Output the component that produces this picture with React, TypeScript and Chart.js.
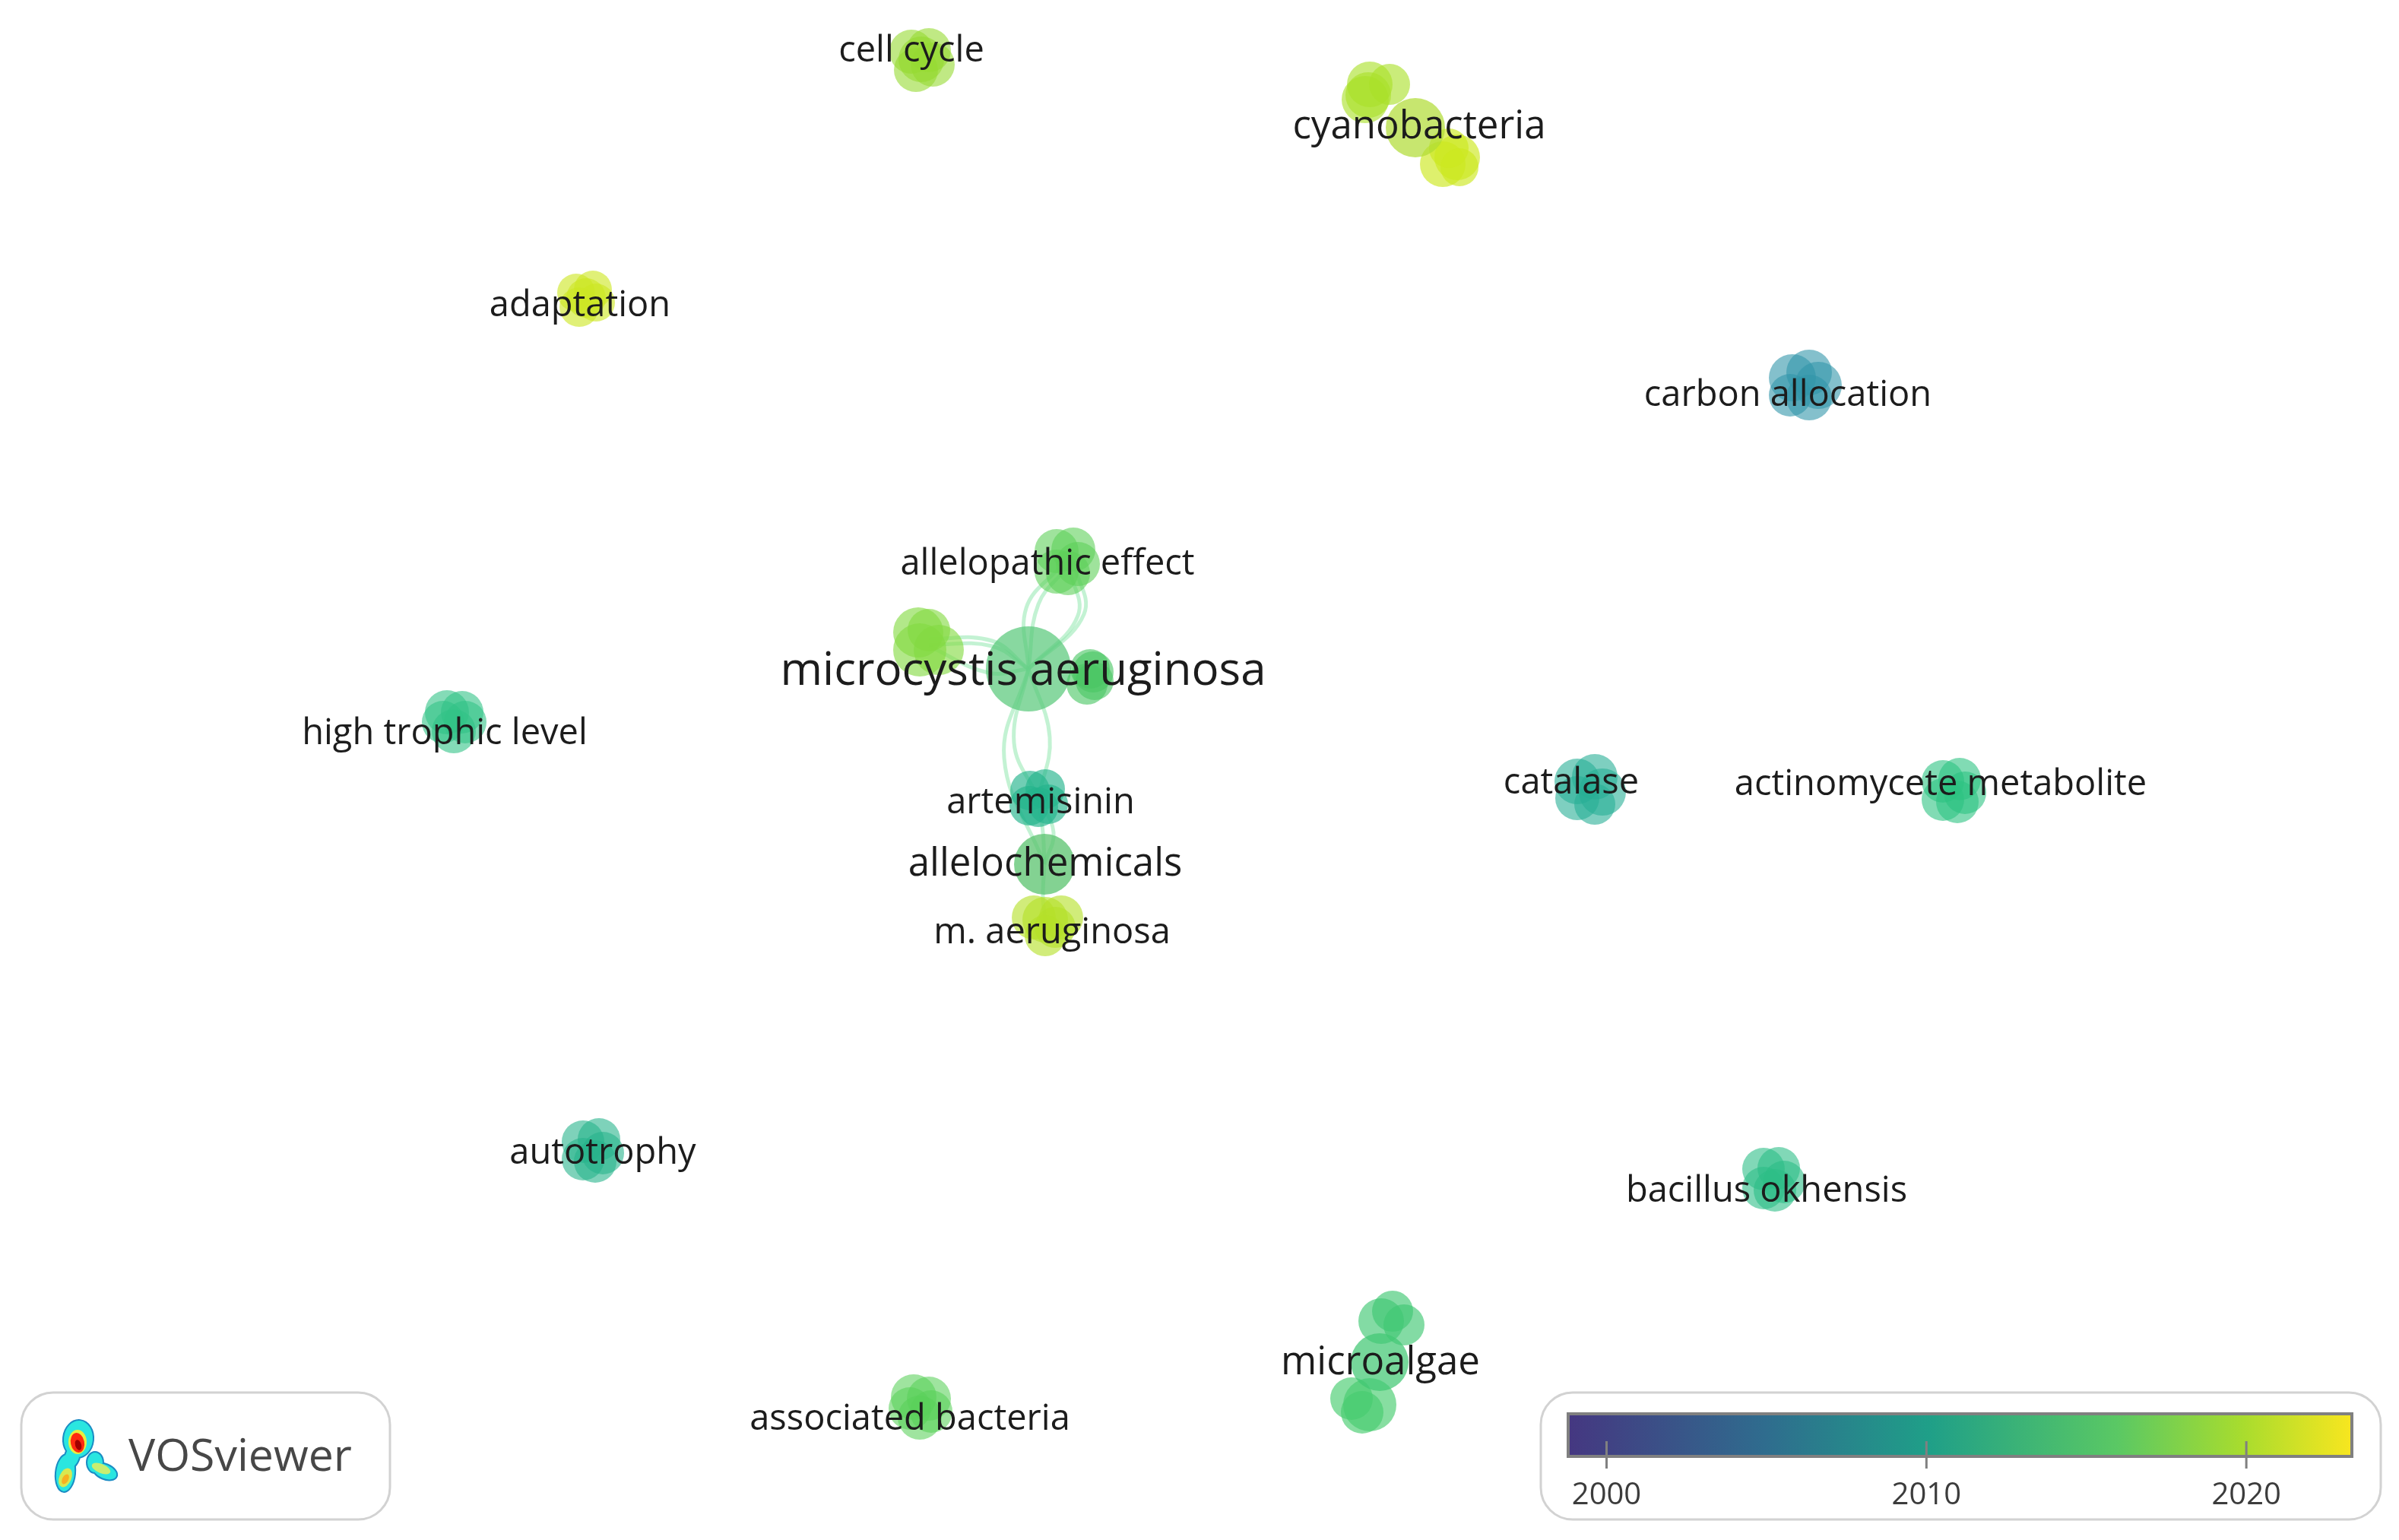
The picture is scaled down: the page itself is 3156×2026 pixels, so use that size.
import React, { useEffect, useRef } from 'react';
import { Chart, registerables } from 'chart.js';

Chart.register(...registerables);

type Node = [number, number, number];
type Link = [number, number][];

// map positions and weights of the items
const cellCycle: Node[] = [[1199, 68, 29], [1222, 66, 29], [1227, 85, 29], [1205, 92, 29], [1212, 78, 30]];
const cyanoTop: Node[] = [[1796, 131, 31], [1802, 111, 30], [1828, 111, 27], [1800, 125, 30]];
const cyanoMid: Node[] = [[1862, 168, 39]];
const cyanoBottom: Node[] = [[1917, 207, 30], [1898, 216, 30], [1906, 195, 26], [1920, 220, 25]];
const adaptation: Node[] = [[758, 385, 25], [780, 381, 25], [784, 398, 25], [762, 404, 26], [771, 392, 26]];
const carbonAllocation: Node[] = [[2358, 497, 31], [2380, 490, 30], [2392, 507, 31], [2355, 520, 28], [2380, 523, 30]];
const allelopathicEffect: Node[] = [[1390, 725, 29], [1412, 723, 29], [1418, 742, 29], [1390, 752, 29], [1405, 754, 29]];
const leftOfMain: Node[] = [[1208, 832, 33], [1222, 829, 28], [1210, 855, 35], [1235, 855, 33]];
const microcystis: Node[] = [[1353, 880, 56]];
const rightOfMain: Node[] = [[1438, 884, 27], [1430, 900, 27], [1434, 880, 26], [1440, 896, 25]];
const highTrophic: Node[] = [[588, 937, 29], [608, 937, 28], [597, 962, 29], [583, 950, 28], [612, 950, 28]];
const artemisinin: Node[] = [[1355, 1040, 26], [1375, 1038, 26], [1379, 1058, 26], [1354, 1060, 26], [1366, 1062, 26]];
const allelochemicals: Node[] = [[1374, 1137, 40]];
const mAeruginosa: Node[] = [[1360, 1207, 29], [1396, 1207, 29], [1375, 1231, 27], [1388, 1220, 27], [1375, 1210, 30]];
const catalase: Node[] = [[2075, 1028, 30], [2098, 1022, 30], [2108, 1042, 31], [2075, 1050, 29], [2098, 1058, 27]];
const actinomycete: Node[] = [[2556, 1028, 28], [2578, 1025, 28], [2585, 1043, 28], [2556, 1052, 28], [2575, 1055, 28]];
const autotrophy: Node[] = [[767, 1502, 28], [788, 1499, 28], [793, 1517, 28], [767, 1525, 28], [783, 1528, 28]];
const bacillus: Node[] = [[2320, 1538, 28], [2340, 1537, 28], [2347, 1555, 28], [2320, 1563, 28], [2335, 1566, 28]];
const microalgaeTop: Node[] = [[1817, 1738, 30], [1847, 1743, 27], [1832, 1725, 27]];
const microalgaeMid: Node[] = [[1815, 1792, 38]];
const microalgaeBottom: Node[] = [[1778, 1840, 28], [1802, 1848, 35], [1792, 1858, 28]];
const associatedBacteria: Node[] = [[1202, 1838, 30], [1222, 1840, 29], [1210, 1865, 29], [1225, 1857, 28], [1197, 1853, 28]];

const nodeGroups: [Node[], string][] = [
  [cellCycle, 'rgba(150,218,50,0.6)'],
  [cyanoTop, 'rgba(170,225,40,0.62)'],
  [cyanoMid, 'rgba(175,220,50,0.7)'],
  [cyanoBottom, 'rgba(205,232,30,0.65)'],
  [adaptation, 'rgba(205,230,35,0.62)'],
  [carbonAllocation, 'rgba(50,150,170,0.6)'],
  [allelopathicEffect, 'rgba(95,208,90,0.6)'],
  [leftOfMain, 'rgba(130,218,65,0.62)'],
  [rightOfMain, 'rgba(75,198,100,0.62)'],
  [microcystis, 'rgba(85,200,120,0.7)'],
  [highTrophic, 'rgba(50,195,135,0.6)'],
  [artemisinin, 'rgba(35,180,140,0.65)'],
  [allelochemicals, 'rgba(90,195,110,0.75)'],
  [mAeruginosa, 'rgba(180,225,40,0.62)'],
  [catalase, 'rgba(40,175,150,0.6)'],
  [actinomycete, 'rgba(45,195,130,0.6)'],
  [autotrophy, 'rgba(40,180,140,0.6)'],
  [bacillus, 'rgba(45,190,135,0.6)'],
  [microalgaeTop, 'rgba(65,200,115,0.65)'],
  [microalgaeMid, 'rgba(65,200,115,0.72)'],
  [microalgaeBottom, 'rgba(70,205,110,0.65)'],
  [associatedBacteria, 'rgba(90,208,90,0.58)'],
];

const links: Link[] = [
  [[1353, 880], [1350, 800], [1395, 745]],
  [[1353, 880], [1366, 795], [1405, 745]],
  [[1353, 880], [1418, 810], [1405, 745]],
  [[1353, 880], [1426, 808], [1412, 740]],
  [[1353, 880], [1305, 843], [1222, 840]],
  [[1353, 880], [1305, 850], [1222, 848]],
  [[1353, 880], [1300, 885], [1222, 850]],
  [[1353, 880], [1321, 997], [1374, 1137]],
  [[1353, 880], [1334, 977], [1366, 1050]],
  [[1353, 880], [1381, 970], [1366, 1050]],
  [[1366, 1050], [1372, 1095], [1374, 1137]],
  [[1366, 1050], [1386, 1095], [1374, 1137]],
  [[1374, 1137], [1372, 1180], [1375, 1210]],
];

const labelTexts = ['cell cycle', 'cyanobacteria', 'adaptation', 'carbon allocation', 'allelopathic effect', 'microcystis aeruginosa', 'high trophic level', 'artemisinin', 'catalase', 'actinomycete metabolite', 'allelochemicals', 'm. aeruginosa', 'autotrophy', 'bacillus okhensis', 'microalgae', 'associated bacteria'];
const labelX = [1199, 1867, 763, 2352, 1378, 1346, 585, 1369, 2067, 2553, 1375, 1384, 793, 2324, 1816, 1197];
const labelY = [68, 167, 403, 521, 743, 884, 966, 1057, 1031, 1033, 1137, 1228, 1518, 1568, 1793, 1868];
const labelSizes = [47, 51, 47, 47, 47, 60, 47, 47, 47, 47, 51, 47, 47, 47, 51, 47];

const yearTicks = [2000, 2010, 2020];
const yearMin = 1998.8;
const yearMax = 2023.3;

const panel = (ctx: CanvasRenderingContext2D, x: number, y: number, w: number, h: number) => {
  ctx.beginPath();
  ctx.roundRect(x, y, w, h, 42);
  ctx.fillStyle = '#fff';
  ctx.fill();
  ctx.lineWidth = 3;
  ctx.strokeStyle = '#d2d2d2';
  ctx.stroke();
};

// the little VOSviewer density logo
const drawLogo = (ctx: CanvasRenderingContext2D) => {
  const blobs = [[103, 1893, 19, 24, 0.1], [86, 1938, 12, 24, 0.1], [95, 1916, 9, 16, 0.3], [125, 1924, 10, 13, 0], [138, 1936, 16, 9, 0.4]];
  const trace = () => {
    ctx.beginPath();
    blobs.forEach(([x, y, rx, ry, a]) => {
      ctx.moveTo(x + rx * Math.cos(a), y + rx * Math.sin(a));
      ctx.ellipse(x, y, rx, ry, a, 0, Math.PI * 2);
    });
  };
  trace();
  ctx.lineWidth = 4;
  ctx.strokeStyle = '#1a8cc4';
  ctx.stroke();
  ctx.fillStyle = '#2ae6e0';
  trace();
  ctx.fill();
  const spots: [number, number, number, number, number, string][] = [
    [102, 1897, 12, 16, 0, '#e8ee40'],
    [102, 1898, 9, 13, -0.2, '#ff2a10'],
    [103, 1901, 4, 7, -0.3, '#a00000'],
    [86, 1944, 8, 13, 0.4, '#d8e850'],
    [86, 1946, 4, 7, 0.5, '#f8b020'],
    [133, 1932, 13, 6, 0.4, '#c8ee70'],
  ];
  spots.forEach(([x, y, rx, ry, a, c]) => {
    ctx.beginPath();
    ctx.ellipse(x, y, rx, ry, a, 0, Math.PI * 2);
    ctx.fillStyle = c;
    ctx.fill();
  });
};

const overlayPlugin = {
  id: 'overlay',
  afterDatasetsDraw(chart: Chart) {
    const { ctx, scales } = chart;
    ctx.save();
    ctx.textAlign = 'center';
    ctx.textBaseline = 'middle';
    ctx.fillStyle = '#1c1c1c';
    labelTexts.forEach((text, i) => {
      ctx.font = `${labelSizes[i]}px "Open Sans"`;
      ctx.fillText(text, scales.x.getPixelForValue(labelX[i]), scales.y.getPixelForValue(labelY[i]));
    });

    panel(ctx, 28, 1832, 485, 167);
    drawLogo(ctx);
    ctx.textAlign = 'left';
    ctx.font = '59px "Open Sans"';
    ctx.fillStyle = '#474747';
    ctx.fillText('VOSviewer', 169, 1918);

    panel(ctx, 2027, 1832, 1105, 167);
    const barL = 2063;
    const barW = 1031;
    const grad = ctx.createLinearGradient(barL, 0, barL + barW, 0);
    grad.addColorStop(0, '#453781');
    grad.addColorStop(0.25, '#2f6c8e');
    grad.addColorStop(0.46, '#1f9f88');
    grad.addColorStop(0.7, '#5ac864');
    grad.addColorStop(0.86, '#a8dc2e');
    grad.addColorStop(1, '#f8e61f');
    ctx.fillStyle = grad;
    ctx.fillRect(barL, 1860, barW, 56);
    ctx.lineWidth = 4;
    ctx.strokeStyle = '#808080';
    ctx.strokeRect(barL, 1860, barW, 56);
    ctx.textAlign = 'center';
    ctx.font = '40px "Open Sans"';
    yearTicks.forEach((year) => {
      const x = barL + ((year - yearMin) / (yearMax - yearMin)) * barW;
      ctx.lineWidth = 3;
      ctx.beginPath();
      ctx.moveTo(x, 1896);
      ctx.lineTo(x, 1932);
      ctx.stroke();
      ctx.fillStyle = '#3c3c3c';
      ctx.fillText(String(year), x, 1968);
    });
    ctx.restore();
  },
};

const App: React.FC = () => {
  const canvasRef = useRef<HTMLCanvasElement | null>(null);

  useEffect(() => {
    if (!canvasRef.current) return;
    const linkSets = links.map((link) => ({
      type: 'line' as const,
      data: link.map(([x, y]) => ({ x, y })),
      borderColor: 'rgba(145,232,175,0.55)',
      borderWidth: 5,
      tension: 0.4,
      pointRadius: 0,
      clip: false,
      order: 2,
    }));
    const nodeSets = nodeGroups.map(([nodes, color]) => ({
      type: 'bubble' as const,
      data: nodes.map(([x, y, r]) => ({ x, y, r })),
      backgroundColor: color,
      borderWidth: 0,
      clip: false,
      order: 1,
    }));
    const myChart = new Chart(canvasRef.current, {
      data: { datasets: [...linkSets, ...nodeSets] as any },
      options: {
        responsive: false,
        animation: false,
        devicePixelRatio: 1,
        events: [],
        // bubbles must not shrink the plot area, the axes are the picture itself
        layout: { padding: 0, autoPadding: false },
        plugins: { legend: { display: false }, tooltip: { enabled: false } },
        scales: {
          x: { type: 'linear', min: 0, max: 3156, display: false },
          y: { type: 'linear', min: 0, max: 2026, reverse: true, display: false },
        },
      },
      plugins: [overlayPlugin],
    });
    return () => {
      myChart.destroy();
    };
  }, []);

  return (
    <div style={{ position: 'fixed', left: 0, top: 0, width: 3156, height: 2026, background: '#fff' }}>
      <canvas ref={canvasRef} width={3156} height={2026} style={{ display: 'block' }} />
    </div>
  );
};

export default App;
